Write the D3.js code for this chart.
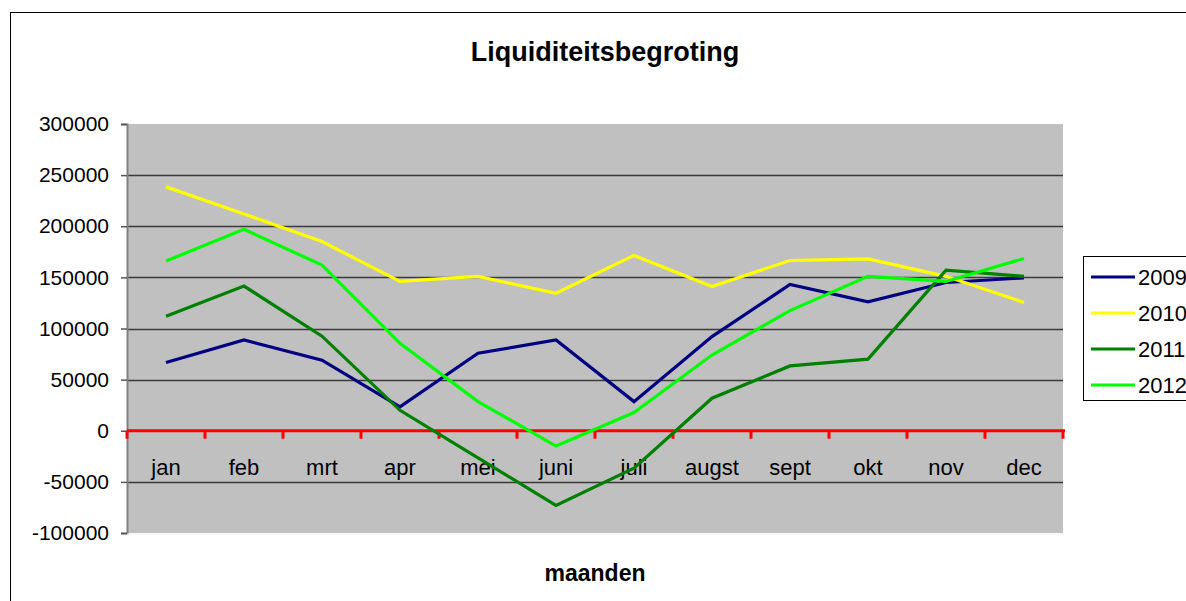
<!DOCTYPE html>
<html>
<head>
<meta charset="utf-8">
<script src="https://cdn.jsdelivr.net/npm/d3@7"></script>
<style>
  body { margin: 0; background: #fff; }
  svg { display: block; font-family: "Liberation Sans", Arial, sans-serif; }
</style>
</head>
<body>
<div id="chart"></div>
<script>
var months = ["jan", "feb", "mrt", "apr", "mei", "juni", "juli", "augst", "sept", "okt", "nov", "dec"];
var years = ["2009", "2010", "2011", "2012"];
var yTicks = [-100000, -50000, 0, 50000, 100000, 150000, 200000, 250000, 300000];

var v2009 = [66700, 88800, 69000, 23300, 75800, 88800, 28500, 92100, 143000, 126000, 145000, 149500];
var v2010 = [238500, 212000, 185000, 146000, 151000, 134500, 171500, 141000, 166500, 168000, 151000, 125500];
var v2011 = [112000, 141500, 92500, 20000, -26500, -73000, -36500, 31800, 63400, 70000, 157000, 151000];
var v2012 = [166000, 197000, 162000, 85500, 28500, -15000, 17800, 74000, 117500, 151000, 146000, 168500];

var colors = ["#000080", "#ffff00", "#008000", "#00ff00"];

var width = 1186, height = 601;
var plotLeft = 127, plotRight = 1063, plotTop = 124, plotBottom = 533;

var svg = d3.select("#chart").append("svg")
  .attr("width", width)
  .attr("height", height);

// outer chart frame
svg.append("rect")
  .attr("x", 10.5).attr("y", 12.5)
  .attr("width", 1200).attr("height", 620)
  .attr("fill", "#fff")
  .attr("stroke", "#000").attr("stroke-width", 1);

svg.append("text")
  .attr("x", 605).attr("y", 61)
  .attr("text-anchor", "middle")
  .attr("font-size", 27).attr("font-weight", "bold")
  .text("Liquiditeitsbegroting");

var x = d3.scaleBand().domain(months).range([plotLeft, plotRight]).padding(0);
var y = d3.scaleLinear().domain([-100000, 300000]).range([plotBottom, plotTop]);

// plot area
svg.append("rect")
  .attr("x", plotLeft).attr("y", plotTop)
  .attr("width", plotRight - plotLeft).attr("height", plotBottom - plotTop)
  .attr("fill", "#c0c0c0");

// gridlines
svg.append("g").selectAll("line")
  .data(yTicks.filter(function(d){ return d !== 0 && d !== -100000 && d !== 300000; }))
  .join("line")
  .attr("x1", plotLeft).attr("x2", plotRight)
  .attr("y1", function(d){ return Math.round(y(d)) + 0.5; })
  .attr("y2", function(d){ return Math.round(y(d)) + 0.5; })
  .attr("stroke", "#3a3a3a").attr("stroke-width", 1.3);

// y axis
var yAxis = svg.append("g")
  .attr("transform", "translate(" + plotLeft + ",0)")
  .call(d3.axisLeft(y).tickValues(yTicks).tickSize(6).tickPadding(12)
    .tickFormat(function(d){ return String(d); }));
yAxis.select(".domain").attr("stroke", "#808080").attr("stroke-width", 2);
yAxis.selectAll(".tick line").attr("stroke", "#555").attr("stroke-width", 1.5);
yAxis.selectAll(".tick text")
  .attr("font-size", 21).attr("fill", "#000")
  .attr("font-family", "Liberation Sans, Arial, sans-serif");

// bottom edge of plot area
svg.append("line")
  .attr("x1", plotLeft).attr("x2", plotRight)
  .attr("y1", plotBottom + 1).attr("y2", plotBottom + 1)
  .attr("stroke", "#f0f0f0").attr("stroke-width", 1);

// category labels
svg.append("g").selectAll("text")
  .data(months)
  .join("text")
  .attr("x", function(d){ return x(d) + x.bandwidth() / 2; })
  .attr("y", 475)
  .attr("text-anchor", "middle")
  .attr("font-size", 22)
  .text(function(d){ return d; });

// series lines
var series = [v2009, v2010, v2011, v2012];
var line = d3.line()
  .x(function(d, i){ return x(months[i]) + x.bandwidth() / 2; })
  .y(function(d){ return y(d); });

// red zero axis with ticks at category boundaries
var boundaries = months.map(function(m){ return x(m); }).concat([plotRight]);
var zeroAxis = svg.append("g");
zeroAxis.append("line")
  .attr("x1", plotLeft).attr("x2", plotRight + 2)
  .attr("y1", y(0)).attr("y2", y(0))
  .attr("stroke", "#ff0000").attr("stroke-width", 3);
zeroAxis.selectAll("line.tk")
  .data(boundaries)
  .join("line")
  .attr("class", "tk")
  .attr("x1", function(d){ return d; }).attr("x2", function(d){ return d; })
  .attr("y1", y(0)).attr("y2", y(0) + 8)
  .attr("stroke", "#ff0000").attr("stroke-width", 3);

svg.append("g").selectAll("path")
  .data(series)
  .join("path")
  .attr("d", line)
  .attr("fill", "none")
  .attr("stroke", function(d, i){ return colors[i]; })
  .attr("stroke-width", 3.2)
  .attr("stroke-linejoin", "miter");

// legend
var legend = svg.append("g");
legend.append("rect")
  .attr("x", 1083.5).attr("y", 256.5)
  .attr("width", 200).attr("height", 144)
  .attr("fill", "#fff").attr("stroke", "#000").attr("stroke-width", 1);
var items = legend.selectAll("g.item")
  .data(years)
  .join("g")
  .attr("class", "item")
  .attr("transform", function(d, i){ return "translate(0," + (277 + i * 36) + ")"; });
items.append("line")
  .attr("x1", 1091).attr("x2", 1135)
  .attr("stroke", function(d, i){ return colors[i]; })
  .attr("stroke-width", 3.2);
items.append("text")
  .attr("x", 1138).attr("y", 8)
  .attr("font-size", 22)
  .text(function(d){ return d; });

svg.append("text")
  .attr("x", 595).attr("y", 581)
  .attr("text-anchor", "middle")
  .attr("font-size", 23).attr("font-weight", "bold")
  .text("maanden");
</script>
</body>
</html>
